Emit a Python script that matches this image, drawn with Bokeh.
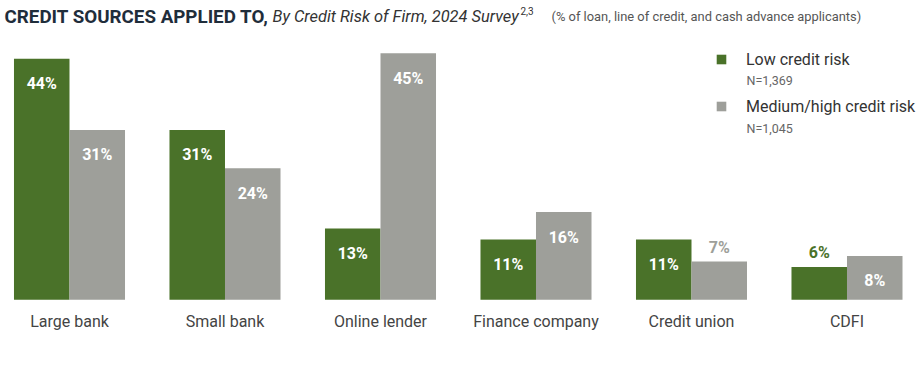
from bokeh.plotting import figure
from bokeh.models import Range1d, Label, Legend, LegendItem, ColumnDataSource
from bokeh.core.properties import value
from bokeh.embed import file_html
from bokeh.resources import INLINE

categories = ["Large bank", "Small bank", "Online lender", "Finance company", "Credit union", "CDFI"]
low_risk = [44, 31, 13, 11, 11, 6]
medhigh_risk = [31, 24, 45, 16, 7, 8]
series_names = ["Low credit risk", "Medium/high credit risk"]
series_n = ["N=1,369", "N=1,045"]

GREEN = "#4a7229"
GRAY = "#9e9f9a"
FONT = "Roboto"

W, H = 923, 368
p = figure(width=W, height=H, output_backend="svg", toolbar_location=None,
           x_range=Range1d(-0.4437, 5.492), y_range=Range1d(-12.54, 54.62),
           min_border=0, outline_line_color=None)
p.axis.visible = False
p.grid.visible = False
p.background_fill_color = "white"
p.border_fill_color = "white"

bw = 0.357
xs = list(range(len(categories)))
x_low = [x - bw / 2 for x in xs]
x_med = [x + bw / 2 for x in xs]

src_low = ColumnDataSource(dict(x=x_low, top=low_risk))
src_med = ColumnDataSource(dict(x=x_med, top=medhigh_risk))

r_low = p.vbar(x="x", top="top", width=bw, bottom=0, source=src_low, fill_color=GREEN, line_color=None)
r_med = p.vbar(x="x", top="top", width=bw, bottom=0, source=src_med, fill_color=GRAY, line_color=None)

PX_PER_UNIT = 5.48
for vals, xx, col in [(low_risk, x_low, GREEN), (medhigh_risk, x_med, GRAY)]:
    inside = [v * PX_PER_UNIT > 40 for v in vals]
    d_in = dict(x=[x for x, i in zip(xx, inside) if i], y=[v for v, i in zip(vals, inside) if i],
                t=[f"{v}%" for v, i in zip(vals, inside) if i])
    d_out = dict(x=[x for x, i in zip(xx, inside) if not i], y=[v for v, i in zip(vals, inside) if not i],
                 t=[f"{v}%" for v, i in zip(vals, inside) if not i])
    p.text(x="x", y="y", text="t", source=ColumnDataSource(d_in), text_align="center",
           text_baseline="middle", y_offset=25, text_color="white", text_font=value(FONT),
           text_font_style="bold", text_font_size="16px")
    p.text(x="x", y="y", text="t", source=ColumnDataSource(d_out), text_align="center",
           text_baseline="middle", y_offset=-14, text_color=col, text_font=value(FONT),
           text_font_style="bold", text_font_size="16px")

p.text(x=xs, y=[0] * len(xs), text=categories, text_align="center", text_baseline="middle",
       y_offset=22, text_color="#444444", text_font=value(FONT), text_font_size="16px")

# Title
ty = H - 16
p.add_layout(Label(x=4, y=ty, x_units="screen", y_units="screen", text="CREDIT SOURCES APPLIED TO,",
                   text_font=FONT, text_font_style="bold", text_font_size="18.8px", text_color="#1f2d3b",
                   text_baseline="alphabetic"))
p.add_layout(Label(x=272, y=ty, x_units="screen", y_units="screen", text="By Credit Risk of Firm, 2024 Survey",
                   text_font=FONT, text_font_style="italic", text_font_size="16.4px", text_color="#333333",
                   text_baseline="alphabetic"))
p.add_layout(Label(x=520, y=ty + 6, x_units="screen", y_units="screen", text="2,3",
                   text_font=FONT, text_font_size="10px", text_color="#333333",
                   text_baseline="alphabetic"))
p.add_layout(Label(x=551, y=ty, x_units="screen", y_units="screen",
                   text="(% of loan, line of credit, and cash advance applicants)",
                   text_font=FONT, text_font_size="12.9px", text_color="#555555",
                   text_baseline="alphabetic"))

legend = Legend(items=[LegendItem(label=series_names[0], renderers=[r_low]),
                       LegendItem(label=series_names[1], renderers=[r_med])],
                location=(715, H - 116), orientation="vertical",
                glyph_width=12, glyph_height=12, label_standoff=19, spacing=27,
                label_height=20, padding=0, margin=0, border_line_color=None,
                background_fill_alpha=0, label_text_font=FONT, label_text_font_size="16px",
                label_text_color="#333333")
p.add_layout(legend)

n_y = [80, 127.5]
for t, yy in zip(series_n, n_y):
    p.add_layout(Label(x=746, y=H - yy, x_units="screen", y_units="screen", text=t,
                       text_font=FONT, text_font_size="12.5px", text_color="#666666",
                       text_baseline="middle"))

open("out.html", "w").write(file_html(p, INLINE))
